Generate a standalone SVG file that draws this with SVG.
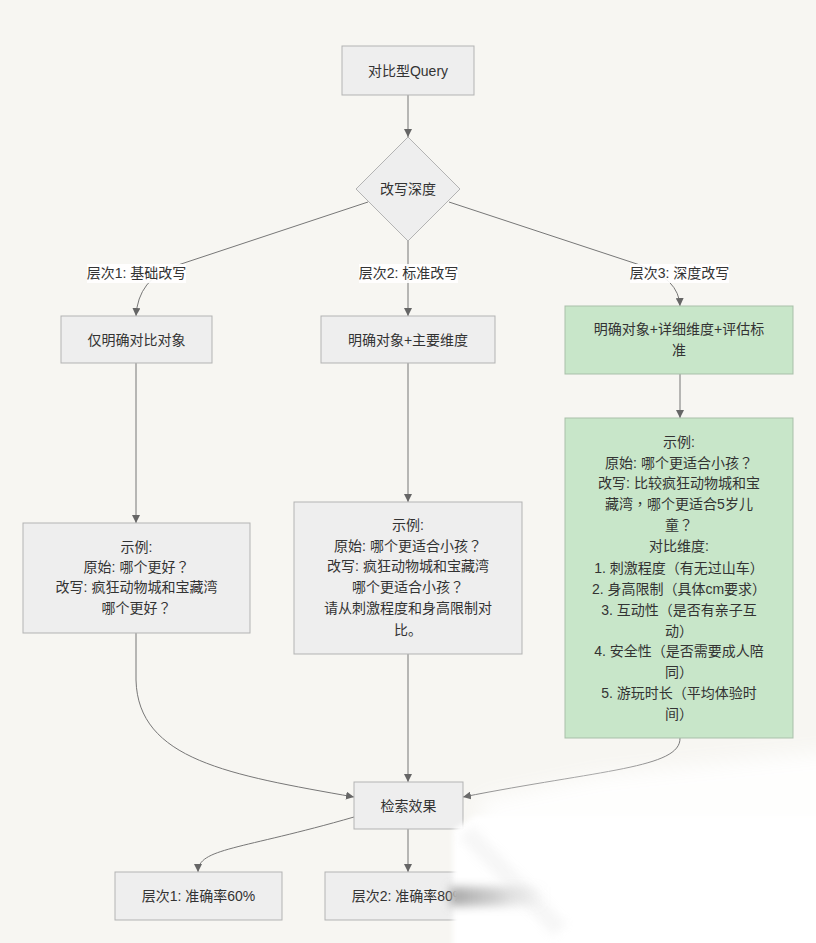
<svg xmlns="http://www.w3.org/2000/svg" width="816" height="943" viewBox="0 0 816 943">
<defs>
<style>
text{font-family:"Liberation Sans","Noto Sans CJK SC",sans-serif;font-size:14px;fill:#333;text-anchor:middle}
.p{font-family:"Noto Sans CJK TC",sans-serif}
.n{fill:#eeeeee;stroke:#b3b3b3;stroke-width:1}
.g{fill:#c8e6c9;stroke:#a9bfa9;stroke-width:1}
.e{fill:none;stroke:#777;stroke-width:1}
.lb{fill:#ffffff;opacity:0.9}
</style>
<marker id="ar" viewBox="0 0 10 10" refX="10" refY="5" markerWidth="8" markerHeight="8" orient="auto" markerUnits="userSpaceOnUse">
<path d="M0,0 L10,5 L0,10 z" fill="#666"/>
</marker>
<filter id="bl" x="-50%" y="-50%" width="200%" height="200%"><feGaussianBlur stdDeviation="10"/></filter>
<filter id="bl2" x="-50%" y="-50%" width="200%" height="200%"><feGaussianBlur stdDeviation="5"/></filter>
<filter id="bl3" x="-50%" y="-50%" width="200%" height="200%"><feGaussianBlur stdDeviation="2.5"/></filter>
<linearGradient id="sm" x1="0" y1="0" x2="1" y2="0">
<stop offset="0" stop-color="#888" stop-opacity="0.75"/>
<stop offset="0.5" stop-color="#999" stop-opacity="0.45"/>
<stop offset="1" stop-color="#bbb" stop-opacity="0"/>
</linearGradient>
</defs>
<rect width="816" height="943" fill="#f7f6f2"/>

<g id="connectors">
<path class="e" d="M408,95 L408,137" marker-end="url(#ar)"/>
<path class="e" d="M368,202 L175,266 Q138,279 136,316" marker-end="url(#ar)"/>
<path class="e" d="M408,241 L408,316" marker-end="url(#ar)"/>
<path class="e" d="M449,202 L640,265 Q679,279 680,306" marker-end="url(#ar)"/>
<path class="e" d="M136,363 L136,523" marker-end="url(#ar)"/>
<path class="e" d="M408,363 L408,502" marker-end="url(#ar)"/>
<path class="e" d="M680,374 L680,418" marker-end="url(#ar)"/>
<path class="e" d="M136,633 L136,680 C138,760 230,775 354,797" marker-end="url(#ar)"/>
<path class="e" d="M408,654 L408,782" marker-end="url(#ar)"/>
<path class="e" d="M680,738 C681,768 600,770 463,797" marker-end="url(#ar)"/>
<path class="e" d="M354,817 C240,850 198,848 198,872" marker-end="url(#ar)"/>
<path class="e" d="M408,829 L408,872" marker-end="url(#ar)"/>
<rect class="lb" x="87" y="264" width="99" height="19"/>
<text x="136.5" y="278">层次1: 基础改写</text>
<rect class="lb" x="359" y="264" width="99" height="19"/>
<text x="408.5" y="278">层次2: 标准改写</text>
<rect class="lb" x="630" y="264" width="99" height="19"/>
<text x="679.5" y="278">层次3: 深度改写</text>
</g>

<g id="query">
<rect class="n" x="342" y="46" width="132" height="49"/>
<text x="408" y="76">对比型Query</text>
</g>
<g id="depth">
<polygon class="n" points="408,137 460,189 408,241 356,189"/>
<text x="408" y="194">改写深度</text>
</g>
<g id="l1">
<rect class="n" x="61" y="316" width="151" height="47"/>
<text x="136.5" y="345">仅明确对比对象</text>
</g>
<g id="l2">
<rect class="n" x="321" y="316" width="174" height="47"/>
<text x="408" y="345">明确对象+主要维度</text>
</g>
<g id="l3">
<rect class="g" x="565" y="306" width="228" height="68"/>
<text x="679" y="334">明确对象+详细维度+评估标</text>
<text x="679" y="355">准</text>
</g>
<g id="ex1">
<rect class="n" x="23" y="523" width="227" height="110"/>
<text x="136.5" y="552">示例:</text>
<text x="136.5" y="572">原始: 哪个更好<tspan class="p">？</tspan></text>
<text x="136.5" y="592">改写: 疯狂动物城和宝藏湾</text>
<text x="136.5" y="613">哪个更好<tspan class="p">？</tspan></text>
</g>
<g id="ex2">
<rect class="n" x="294" y="502" width="228" height="152"/>
<text x="408" y="530">示例:</text>
<text x="408" y="551">原始: 哪个更适合小孩<tspan class="p">？</tspan></text>
<text x="408" y="571">改写: 疯狂动物城和宝藏湾</text>
<text x="408" y="592">哪个更适合小孩<tspan class="p">？</tspan></text>
<text x="408" y="613">请从刺激程度和身高限制对</text>
<text x="408" y="635">比。</text>
</g>
<g id="ex3">
<rect class="g" x="565" y="418" width="228" height="320"/>
<text x="679" y="447">示例:</text>
<text x="679" y="468">原始: 哪个更适合小孩<tspan class="p">？</tspan></text>
<text x="679" y="488">改写: 比较疯狂动物城和宝</text>
<text x="679" y="509">藏湾<tspan class="p">，</tspan>哪个更适合5岁儿</text>
<text x="679" y="530">童<tspan class="p">？</tspan></text>
<text x="679" y="551">对比维度:</text>
<text x="679" y="573">1. 刺激程度（有无过山车）</text>
<text x="679" y="594">2. 身高限制（具体cm要求）</text>
<text x="679" y="615">3. 互动性（是否有亲子互</text>
<text x="679" y="636">动）</text>
<text x="679" y="656">4. 安全性（是否需要成人陪</text>
<text x="679" y="677">同）</text>
<text x="679" y="698">5. 游玩时长（平均体验时</text>
<text x="679" y="719">间）</text>
</g>
<g id="result">
<rect class="n" x="354" y="782" width="109" height="47"/>
<text x="408.5" y="811">检索效果</text>
</g>
<g id="r1">
<rect class="n" x="115" y="872" width="167" height="48"/>
<text x="198.5" y="901">层次1: 准确率60%</text>
</g>
<g id="r2">
<rect class="n" x="325" y="872" width="167" height="48"/>
<text x="408.5" y="901">层次2: 准确率80%</text>
</g>

<g id="fade">
<polygon points="480,800 600,775 840,750 840,960 480,960" fill="#ffffff" opacity="0.9" filter="url(#bl)"/>
<polygon points="453,830 475,816 840,816 840,960 453,960" fill="#ffffff" filter="url(#bl3)"/>
<path d="M466,832 L560,930" stroke="#d0d0d0" stroke-width="18" opacity="0.18" filter="url(#bl2)"/>
<rect x="450" y="887" width="95" height="19" fill="url(#sm)" filter="url(#bl2)"/>
</g>
</svg>
